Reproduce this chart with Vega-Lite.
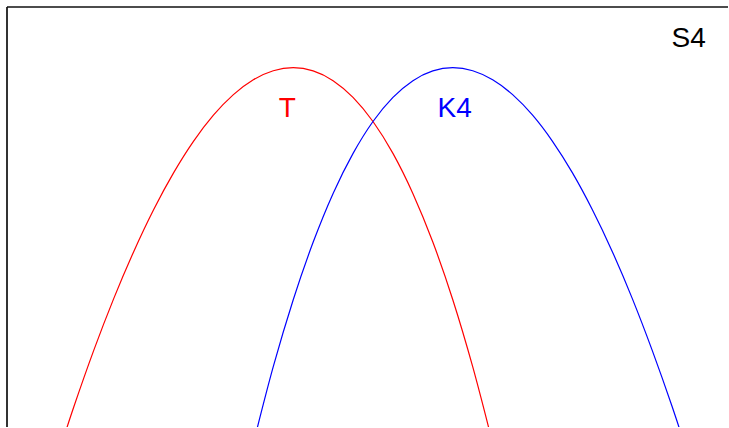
{
  "$schema": "https://vega.github.io/schema/vega-lite/v6.json",
  "width": 729,
  "height": 428,
  "autosize": {"type": "fit", "contains": "padding"},
  "padding": {"left": 6, "top": 6, "right": 0, "bottom": 0},
  "background": "white",
  "config": {"view": {"stroke": null}, "axis": {"disable": true}},
  "datasets": {
    "curves": [
      {"series": "T", "x": 0.650, "y": -0.0972},
      {"series": "T", "x": 0.927, "y": 0.0481},
      {"series": "T", "x": 1.203, "y": 0.1825},
      {"series": "T", "x": 1.480, "y": 0.3057},
      {"series": "T", "x": 1.757, "y": 0.4175},
      {"series": "T", "x": 2.033, "y": 0.5173},
      {"series": "T", "x": 2.310, "y": 0.6050},
      {"series": "T", "x": 2.586, "y": 0.6801},
      {"series": "T", "x": 2.863, "y": 0.7423},
      {"series": "T", "x": 3.140, "y": 0.7913},
      {"series": "T", "x": 3.416, "y": 0.8267},
      {"series": "T", "x": 3.693, "y": 0.8482},
      {"series": "T", "x": 3.970, "y": 0.8555},
      {"series": "T", "x": 4.246, "y": 0.8479},
      {"series": "T", "x": 4.523, "y": 0.8247},
      {"series": "T", "x": 4.799, "y": 0.7848},
      {"series": "T", "x": 5.076, "y": 0.7274},
      {"series": "T", "x": 5.353, "y": 0.6515},
      {"series": "T", "x": 5.629, "y": 0.5562},
      {"series": "T", "x": 5.906, "y": 0.4403},
      {"series": "T", "x": 6.183, "y": 0.3031},
      {"series": "T", "x": 6.459, "y": 0.1436},
      {"series": "T", "x": 6.736, "y": -0.0389},
      {"series": "K4", "x": 3.417, "y": -0.0389},
      {"series": "K4", "x": 3.693, "y": 0.1436},
      {"series": "K4", "x": 3.970, "y": 0.3031},
      {"series": "K4", "x": 4.247, "y": 0.4403},
      {"series": "K4", "x": 4.523, "y": 0.5562},
      {"series": "K4", "x": 4.800, "y": 0.6515},
      {"series": "K4", "x": 5.076, "y": 0.7274},
      {"series": "K4", "x": 5.353, "y": 0.7848},
      {"series": "K4", "x": 5.630, "y": 0.8247},
      {"series": "K4", "x": 5.906, "y": 0.8479},
      {"series": "K4", "x": 6.183, "y": 0.8555},
      {"series": "K4", "x": 6.460, "y": 0.8482},
      {"series": "K4", "x": 6.736, "y": 0.8267},
      {"series": "K4", "x": 7.013, "y": 0.7913},
      {"series": "K4", "x": 7.290, "y": 0.7423},
      {"series": "K4", "x": 7.566, "y": 0.6801},
      {"series": "K4", "x": 7.843, "y": 0.6050},
      {"series": "K4", "x": 8.119, "y": 0.5173},
      {"series": "K4", "x": 8.396, "y": 0.4175},
      {"series": "K4", "x": 8.673, "y": 0.3057},
      {"series": "K4", "x": 8.949, "y": 0.1825},
      {"series": "K4", "x": 9.226, "y": 0.0481},
      {"series": "K4", "x": 9.503, "y": -0.0972}
    ],
    "labels": [
      {"series": "T", "x": 3.887, "y": 0.739},
      {"series": "K4", "x": 6.210, "y": 0.739},
      {"series": "S4", "x": 9.454, "y": 0.905}
    ]
  },
  "layer": [
    {
      "data": {"name": "curves"},
      "mark": {"type": "line", "interpolate": "monotone", "strokeWidth": 1.2, "clip": true},
      "encoding": {
        "x": {"field": "x", "type": "quantitative", "scale": {"domain": [0, 10], "nice": false, "zero": false}},
        "y": {"field": "y", "type": "quantitative", "scale": {"domain": [0, 1], "nice": false, "zero": false}},
        "color": {"field": "series", "type": "nominal", "scale": {"domain": ["T", "K4", "S4"], "range": ["#ff0000", "#0000ff", "#000000"]}, "legend": null},
        "detail": {"field": "series"}
      }
    },
    {
      "data": {"name": "labels"},
      "mark": {"type": "text", "font": "Liberation Sans", "fontSize": 28, "align": "center", "baseline": "alphabetic"},
      "encoding": {
        "x": {"field": "x", "type": "quantitative"},
        "y": {"field": "y", "type": "quantitative"},
        "text": {"field": "series"},
        "color": {"field": "series", "type": "nominal", "legend": null}
      }
    },
    {
      "data": {"values": [{}]},
      "mark": {"type": "rule", "color": "#333333", "strokeWidth": 2},
      "encoding": {"x": {"datum": 0, "type": "quantitative"}}
    },
    {
      "data": {"values": [{}]},
      "mark": {"type": "rule", "color": "#111111", "strokeWidth": 1.5},
      "encoding": {"y": {"datum": 1, "type": "quantitative"}}
    }
  ]
}
